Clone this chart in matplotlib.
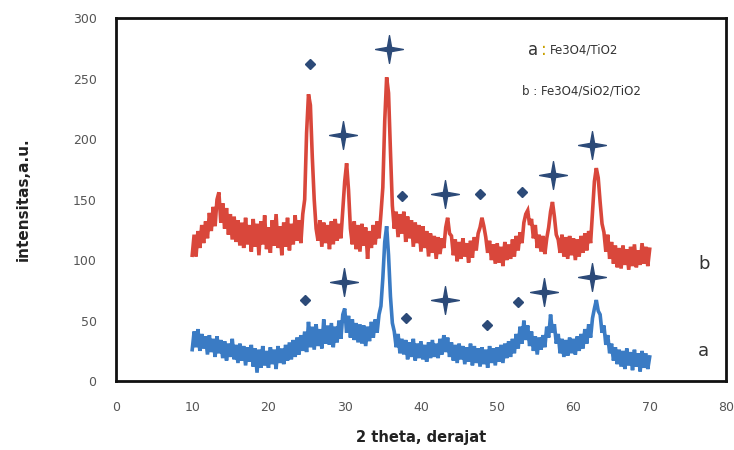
import numpy as np
import matplotlib
matplotlib.use('Agg')
import matplotlib.pyplot as plt
from matplotlib.path import Path

# 2 theta grid (degrees) and read-off intensities
two_theta = np.arange(10, 70.01, 0.25)

intensity_b = [
    104, 121, 103, 124, 110, 129, 114, 132,
    118, 139, 124, 144, 128, 150, 156, 131,
    147, 126, 143, 121, 138, 117, 136, 115,
    133, 112, 131, 110, 135, 113, 129, 107,
    134, 111, 130, 104, 132, 113, 137, 109,
    127, 106, 133, 112, 138, 110, 128, 104,
    131, 111, 135, 108, 130, 113, 137, 116,
    133, 114, 138, 150, 205, 237, 228, 185,
    150, 126, 116, 133, 111, 131, 114, 129,
    109, 132, 113, 134, 116, 130, 118, 141,
    165, 180, 158, 126, 113, 132, 109, 129,
    107, 130, 112, 127, 101, 124, 110, 129,
    113, 132, 118, 138, 160, 215, 251, 238,
    190, 145, 126, 140, 119, 138, 122, 140,
    115, 136, 118, 133, 111, 131, 114, 129,
    107, 128, 110, 124, 103, 122, 106, 120,
    101, 119, 105, 118, 110, 127, 135, 122,
    120, 104, 117, 99, 115, 101, 118, 103,
    114, 98, 116, 102, 119, 108, 122, 127,
    135, 128, 119, 106, 116, 100, 113, 97,
    114, 98, 111, 95, 115, 100, 113, 101,
    117, 103, 120, 108, 123, 114, 131, 138,
    141, 129, 134, 118, 129, 110, 121, 107,
    120, 105, 118, 127, 140, 148, 136, 121,
    117, 106, 121, 103, 119, 101, 120, 104,
    118, 100, 117, 103, 120, 106, 122, 108,
    124, 114, 140, 165, 176, 168, 148, 130,
    123, 107, 121, 101, 115, 97, 112, 94,
    110, 93, 112, 96, 109, 92, 111, 95,
    113, 94, 108, 96, 114, 97, 111, 95,
    109,
]

intensity_a = [
    26, 41, 28, 43, 25, 39, 27, 37,
    22, 38, 24, 35, 20, 37, 23, 34,
    19, 33, 17, 31, 20, 35, 18, 30,
    15, 31, 17, 29, 13, 28, 16, 30,
    12, 27, 7, 26, 11, 29, 13, 25,
    11, 28, 14, 26, 10, 29, 15, 27,
    14, 30, 17, 32, 18, 34, 20, 36,
    22, 38, 25, 41, 24, 49, 28, 45,
    26, 47, 29, 43, 27, 51, 31, 46,
    30, 48, 28, 45, 32, 50, 35, 55,
    60, 40, 54, 36, 51, 34, 48, 32,
    47, 31, 46, 29, 45, 33, 49, 36,
    51, 40, 55, 62, 85, 115, 128, 104,
    70, 48, 41, 28, 39, 23, 35, 22,
    34, 18, 32, 20, 35, 17, 31, 19,
    33, 18, 30, 16, 32, 19, 34, 20,
    31, 19, 35, 22, 38, 24, 36, 20,
    32, 17, 30, 15, 31, 18, 29, 14,
    28, 16, 31, 13, 29, 15, 27, 12,
    28, 14, 26, 11, 29, 15, 27, 13,
    28, 16, 30, 15, 31, 19, 33, 20,
    35, 23, 39, 27, 45, 31, 50, 34,
    46, 29, 41, 25, 37, 22, 36, 26,
    38, 28, 45, 36, 55, 40, 47, 31,
    39, 23, 35, 20, 34, 21, 36, 23,
    35, 22, 37, 25, 39, 27, 43, 31,
    47, 36, 52, 60, 67, 58, 55, 40,
    46, 30, 38, 23, 31, 17, 28, 14,
    26, 12, 25, 10, 27, 13, 24, 9,
    26, 12, 23, 8, 25, 11, 23, 10,
    20,
]

# phase markers (position, height)
b_diamonds_x = [25.5, 37.5, 47.7, 53.2]
b_diamonds_y = [262, 153, 155, 156]
b_stars_x = [29.8, 35.8, 43.1, 57.3, 62.4]
b_stars_y = [203, 274, 155, 170, 195]
a_diamonds_x = [24.8, 38.1, 48.6, 52.7]
a_diamonds_y = [67, 52, 46, 65]
a_stars_x = [29.9, 43.1, 56.2, 62.4]
a_stars_y = [82, 67, 74, 86]

red = '#d9473b'
blue = '#3a7bc4'
navy = '#2c4a78'

# four pointed star marker
w = 0.15
star = Path([(0, 1), (w, w), (1, 0), (w, -w), (0, -1), (-w, -w), (-1, 0), (-w, w), (0, 1)],
            [Path.MOVETO] + [Path.LINETO] * 7 + [Path.CLOSEPOLY])

fig = plt.figure(figsize=(7.34, 4.5), dpi=100)
ax = fig.add_axes([0.158, 0.153, 0.831, 0.807])

ax.plot(two_theta, intensity_b, color=red, lw=2.6, solid_joinstyle='miter')
ax.plot(two_theta, intensity_a, color=blue, lw=2.6, solid_joinstyle='miter')

for xs, ys in [(b_diamonds_x, b_diamonds_y), (a_diamonds_x, a_diamonds_y)]:
    ax.plot(xs, ys, 'D', color=navy, ms=5.5, ls='none')
for xs, ys in [(b_stars_x, b_stars_y), (a_stars_x, a_stars_y)]:
    ax.plot(xs, ys, marker=star, color=navy, ms=20, ls='none')

ax.text(77.2, 97, 'b', fontsize=13, color='#333333', ha='center', va='center')
ax.text(77.0, 25, 'a', fontsize=13, color='#333333', ha='center', va='center')

ax.text(54.0, 273.5, 'a', fontsize=12, color='#333333', va='center')
ax.text(55.7, 273.5, ':', fontsize=12, color='#c8a000', va='center')
ax.text(56.9, 273.5, 'Fe3O4/TiO2', fontsize=8.5, color='#333333', va='center')
ax.text(53.3, 240, 'b : Fe3O4/SiO2/TiO2', fontsize=8.5, color='#333333', va='center')

ax.set_xlim(0, 80)
ax.set_ylim(0, 300)
ax.set_xticks(range(0, 81, 10))
ax.set_yticks(range(0, 301, 50))
ax.tick_params(length=0, labelsize=9, labelcolor='#555555')
ax.tick_params(axis='x', pad=14)
ax.tick_params(axis='y', pad=14)
for s in ax.spines.values():
    s.set_linewidth(2)
    s.set_color('#111111')

ax.set_xlabel('2 theta, derajat', fontsize=10.5, fontweight='bold', color='#222222', labelpad=12)
ax.set_ylabel('intensitas,a.u.', fontsize=11, fontweight='bold', color='#222222', labelpad=30)

fig.savefig('out.png', dpi=100)
